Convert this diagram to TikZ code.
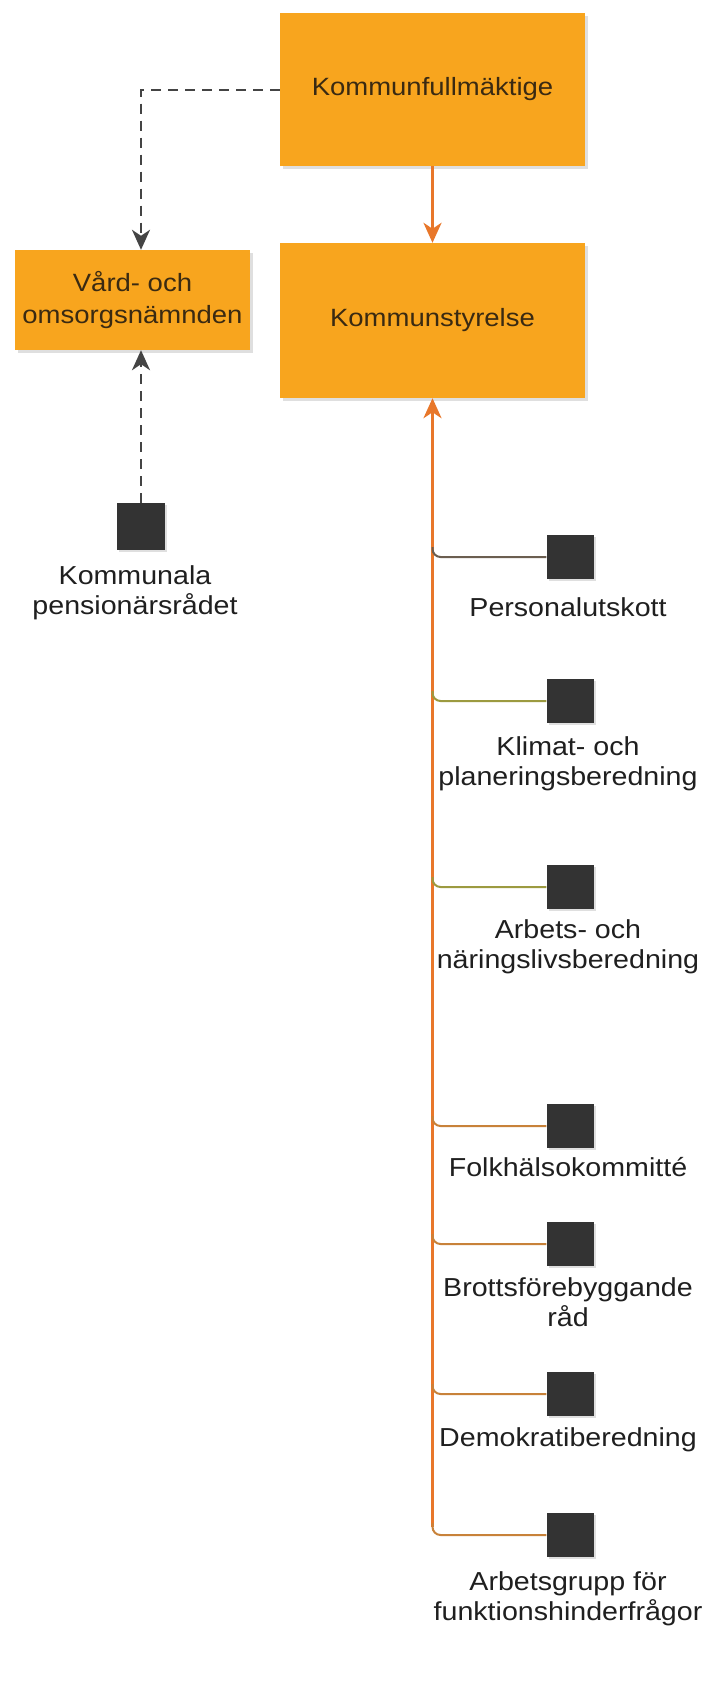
\documentclass[tikz,border=0pt]{standalone}
\usepackage{fontspec}
\setmainfont{Liberation Sans}[FakeStretch=1.1]
\usetikzlibrary{arrows.meta,shadows,calc}
\definecolor{boxorange}{HTML}{F8A51E}
\definecolor{boxtext}{HTML}{3A2A12}
\definecolor{sqfill}{HTML}{333333}
\definecolor{mainorange}{HTML}{E8772A}
\definecolor{brgray}{HTML}{6B5E50}
\definecolor{brolive}{HTML}{9C9A40}
\definecolor{brorange}{HTML}{C8823A}
\definecolor{dashgray}{HTML}{444444}
\begin{document}
\begin{tikzpicture}[x=1pt,y=-1pt,
  orgbox/.style={fill=boxorange, inner sep=0pt, align=center, text=boxtext,
    font=\fontsize{25}{32}\selectfont,
    drop shadow={shadow xshift=3pt, shadow yshift=-3pt, opacity=0.25}},
  sq/.style={fill=sqfill, minimum width=47pt, minimum height=44pt, inner sep=0pt,
    drop shadow={shadow xshift=2pt, shadow yshift=-2pt, opacity=0.25}},
  lbl/.style={anchor=north, inner sep=0pt, align=center, text=black!88,
    font=\fontsize{26}{30}\selectfont},
  mainline/.style={draw=mainorange, line width=3pt},
  dashline/.style={draw=dashgray, line width=2pt, dash pattern=on 10pt off 7pt},
  branch/.style={line width=2pt, rounded corners=8pt}
]
\useasboundingbox (0,0) rectangle (716,1692);
\fill[white] (0,0) rectangle (716,1692);

% boxes
\node[orgbox, minimum width=305pt, minimum height=153pt] (kf) at (432.5,89.5) {Kommunfullmäktige};
\node[orgbox, minimum width=305pt, minimum height=155pt] (ks) at (432.5,320.5) {Kommunstyrelse};
\node[orgbox, minimum width=235pt, minimum height=100pt] (vard) at (132.5,300) {Vård- och\\omsorgsnämnden};

% squares
\node[sq, minimum width=48pt, minimum height=47pt] (kpr) at (141,526.5) {};
\node[sq] (s1) at (570,557) {};
\node[sq] (s2) at (570,701) {};
\node[sq] (s3) at (570,887) {};
\node[sq] (s4) at (570,1126) {};
\node[sq] (s5) at (570,1244) {};
\node[sq] (s6) at (570,1394) {};
\node[sq] (s7) at (570,1535) {};

% labels
\node[lbl] (lkpr) at (135,565) {Kommunala\\pensionärsrådet};
\node[lbl] (l1) at (568,597) {Personalutskott};
\node[lbl] (l2) at (568,736) {Klimat- och\\planeringsberedning};
\node[lbl] (l3) at (568,919) {Arbets- och\\näringslivsberedning};
\node[lbl] (l4) at (568,1157) {Folkhälsokommitté};
\node[lbl] (l5) at (568,1277) {Brottsförebyggande\\råd};
\node[lbl] (l6) at (568,1427) {Demokratiberedning};
\node[lbl] (l7) at (568,1571) {Arbetsgrupp för\\funktionshinderfrågor};

% connectors
\draw[dashline, -{Stealth[length=20pt, width=18pt, inset=6pt, fill=dashgray]}] (kf.west) -| ($(vard.north)+(8.5,0)$);
\draw[dashline, -{Stealth[length=20pt, width=18pt, inset=6pt, fill=dashgray]}] (kpr.north) -- (kpr.north |- vard.south);
\draw[mainline, -{Stealth[length=20pt, width=18pt, inset=6pt, fill=mainorange]}] (kf.south) -- (ks.north);
\draw[mainline, {Stealth[length=20pt, width=18pt, inset=6pt, fill=mainorange]}-] (ks.south) -- ($(ks.south |- s7.west)+(0,-8)$);

\draw[branch, draw=brgray]   ($(ks.south |- s1.west)+(0,-10)$) |- (s1.west);
\draw[branch, draw=brolive]  ($(ks.south |- s2.west)+(0,-10)$) |- (s2.west);
\draw[branch, draw=brolive]  ($(ks.south |- s3.west)+(0,-10)$) |- (s3.west);
\draw[branch, draw=brorange] ($(ks.south |- s4.west)+(0,-10)$) |- (s4.west);
\draw[branch, draw=brorange] ($(ks.south |- s5.west)+(0,-10)$) |- (s5.west);
\draw[branch, draw=brorange] ($(ks.south |- s6.west)+(0,-10)$) |- (s6.west);
\draw[branch, draw=brorange] ($(ks.south |- s7.west)+(0,-12)$) |- (s7.west);
\end{tikzpicture}
\end{document}
